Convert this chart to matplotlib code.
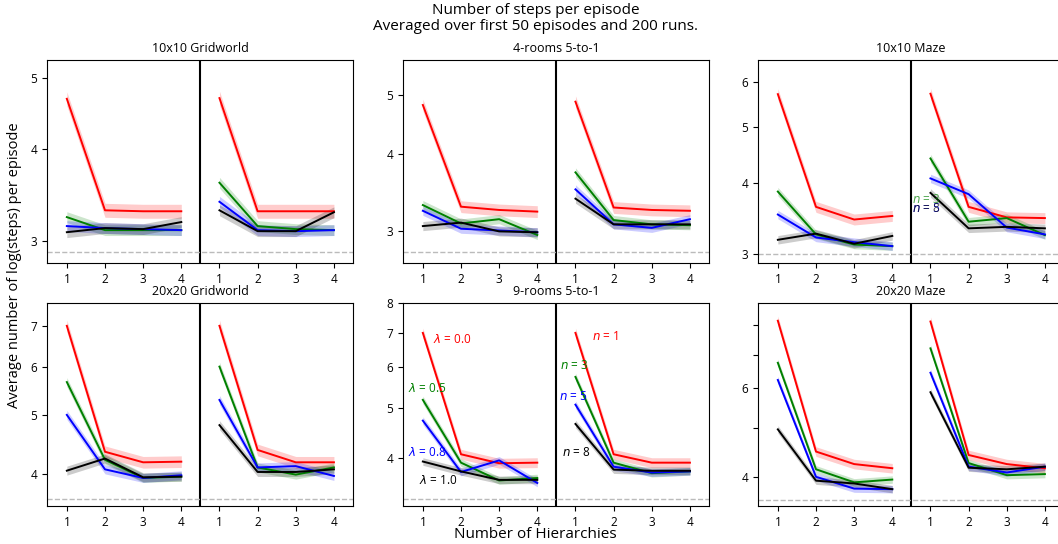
import numpy as np
import matplotlib.pyplot as plt
from matplotlib.ticker import FixedLocator, FixedFormatter, NullLocator

plt.rcParams['font.family'] = ['Open Sans', 'DejaVu Sans']

hierarchies = [1, 2, 3, 4]
colors = ['red', 'green', 'blue', 'black']
lambda_labels = ['0.0', '0.5', '0.8', '1.0']
n_labels = ['1', '3', '5', '8']

titles = ['10x10 Gridworld', '4-rooms 5-to-1', '10x10 Maze',
          '20x20 Gridworld', '9-rooms 5-to-1', '20x20 Maze']

# mean log(steps) per episode; rows are lambda = 0.0, 0.5, 0.8, 1.0
gw10_lam = [[4.69, 3.30, 3.29, 3.29],
            [3.23, 3.10, 3.10, 3.10],
            [3.14, 3.12, 3.11, 3.10],
            [3.08, 3.12, 3.11, 3.18]]
rooms4_lam = [[4.81, 3.29, 3.25, 3.23],
              [3.31, 3.09, 3.14, 2.96],
              [3.24, 3.03, 3.01, 2.99],
              [3.06, 3.10, 3.00, 2.99]]
maze10_lam = [[5.71, 3.63, 3.45, 3.50],
              [3.86, 3.25, 3.12, 3.10],
              [3.52, 3.21, 3.15, 3.10],
              [3.18, 3.26, 3.13, 3.23]]
gw20_lam = [[7.00, 4.35, 4.18, 4.19],
            [5.66, 4.22, 3.94, 3.96],
            [5.00, 4.07, 3.94, 3.98],
            [4.05, 4.24, 3.95, 3.96]]
rooms9_lam = [[7.00, 4.07, 3.91, 3.92],
              [5.19, 3.92, 3.62, 3.66],
              [4.73, 3.76, 3.96, 3.58],
              [3.94, 3.77, 3.63, 3.63]]
maze20_lam = [[8.17, 4.49, 4.24, 4.16],
              [6.74, 4.14, 3.90, 3.95],
              [6.23, 4.00, 3.79, 3.78],
              [4.97, 3.93, 3.88, 3.78]]

# same, rows are n = 1, 3, 5, 8
gw10_n = [[4.70, 3.29, 3.29, 3.29],
          [3.60, 3.14, 3.11, 3.10],
          [3.39, 3.10, 3.09, 3.10],
          [3.30, 3.09, 3.09, 3.28]]
rooms4_n = [[4.87, 3.28, 3.25, 3.24],
            [3.74, 3.13, 3.08, 3.07],
            [3.51, 3.08, 3.04, 3.14],
            [3.39, 3.08, 3.08, 3.08]]
maze10_n = [[5.72, 3.63, 3.48, 3.47],
            [4.41, 3.42, 3.47, 3.24],
            [4.07, 3.82, 3.34, 3.25],
            [3.84, 3.33, 3.35, 3.33]]
gw20_n = [[7.00, 4.38, 4.18, 4.18],
          [6.00, 4.10, 3.99, 4.10],
          [5.29, 4.10, 4.12, 3.97],
          [4.81, 4.03, 4.03, 4.07]]
rooms9_n = [[7.00, 4.07, 3.92, 3.92],
            [5.75, 3.92, 3.74, 3.77],
            [5.08, 3.85, 3.75, 3.77],
            [4.66, 3.80, 3.78, 3.78]]
maze20_n = [[8.14, 4.42, 4.24, 4.16],
            [7.20, 4.26, 4.03, 4.05],
            [6.44, 4.19, 4.08, 4.19],
            [5.89, 4.17, 4.14, 4.19]]

lam_data = [gw10_lam, rooms4_lam, maze10_lam, gw20_lam, rooms9_lam, maze20_lam]
n_data = [gw10_n, rooms4_n, maze10_n, gw20_n, rooms9_n, maze20_n]

# half-width of the shaded spread (log units), per colour
spread = [0.022, 0.017, 0.017, 0.017]

optimal = [2.894, 2.774, 3.0, 3.64, 3.33, 3.59]
ylims = [(2.795, 5.30), (2.666, 5.69), (2.897, 6.55),
         (3.544, 7.63), (3.23, 8.0), (3.50, 8.86)]
yticks = [[3, 4, 5], [3, 4, 5], [3, 4, 5, 6],
          [4, 5, 6, 7], [4, 5, 6, 7, 8], [4, 5, 6, 7, 8]]
yticklabels = [['3', '4', '5'], ['3', '4', '5'], ['3', '4', '5', '6'],
               ['4', '5', '6', '7'], ['4', '5', '6', '7', '8'],
               ['4', '', '6', '', '']]

fig = plt.figure(figsize=(10.58, 5.44), dpi=100)

W, H = 1058, 544
lefts = [47, 403, 758]
tops = [60, 303]
aw, ah = 306, 203

axes = []
for i in range(6):
    r, c = divmod(i, 3)
    ax = fig.add_axes([lefts[c] / W, 1 - (tops[r] + ah) / H, aw / W, ah / H])
    axes.append(ax)
    for half, data in enumerate((lam_data[i], n_data[i])):
        x = np.arange(4) + 4 * half
        for k in range(4):
            y = np.array(data[k])
            ax.fill_between(x, y * np.exp(-spread[k]), y * np.exp(spread[k]),
                            color=colors[k], alpha=0.2, lw=0)
            ax.plot(x, y, color=colors[k], lw=1.4)
    ax.axvline(3.5, color='black', lw=1.5)
    ax.axhline(optimal[i], color='#bbbbbb', ls='--', lw=1)
    ax.set_yscale('log')
    ax.set_ylim(*ylims[i])
    ax.yaxis.set_major_locator(FixedLocator(yticks[i]))
    ax.yaxis.set_major_formatter(FixedFormatter(yticklabels[i]))
    ax.yaxis.set_minor_locator(NullLocator())
    ax.set_xlim(-0.52, 7.5)
    ax.set_xticks(range(8))
    ax.set_xticklabels([str(h) for h in hierarchies] * 2)
    ax.tick_params(labelsize=8.5)
    ax.set_title(titles[i], fontsize=9)

# series labels in the 9-rooms panel
ax = axes[4]
lam_pos = [(0.26, 6.8), (-0.39, 5.45), (-0.39, 4.10), (-0.09, 3.62)]
n_pos = [(4.44, 6.90), (3.60, 6.06), (3.56, 5.27), (3.66, 4.10)]
for k in range(4):
    ax.text(*lam_pos[k], r'$\lambda$ = %s' % lambda_labels[k], color=colors[k],
            fontsize=8.5, ha='left', va='center')
    ax.text(*n_pos[k], r'$n$ = %s' % n_labels[k], color=colors[k],
            fontsize=8.5, ha='left', va='center')

# labels that land on top of each other in the 10x10 maze panel
ax = axes[2]
ax.text(3.52, 3.74, r'$n$ = 3', color='green', alpha=0.7, fontsize=8.5, ha='left', va='center')
ax.text(3.52, 3.60, r'$n$ = 5', color='blue', alpha=0.8, fontsize=8.5, ha='left', va='center')
ax.text(3.52, 3.60, r'$n$ = 8', color='black', alpha=0.7, fontsize=8.5, ha='left', va='center')

fig.text(0.506, 0.995, 'Number of steps per episode\nAveraged over first 50 episodes and 200 runs.',
         ha='center', va='top', fontsize=11, linespacing=1.1)
fig.text(0.506, 0.003, 'Number of Hierarchies', ha='center', va='bottom', fontsize=11)
fig.text(0.0135, 0.513, 'Average number of log(steps) per episode', rotation=90,
         ha='center', va='center', fontsize=10.5)

fig.savefig('out.png', dpi=100)
